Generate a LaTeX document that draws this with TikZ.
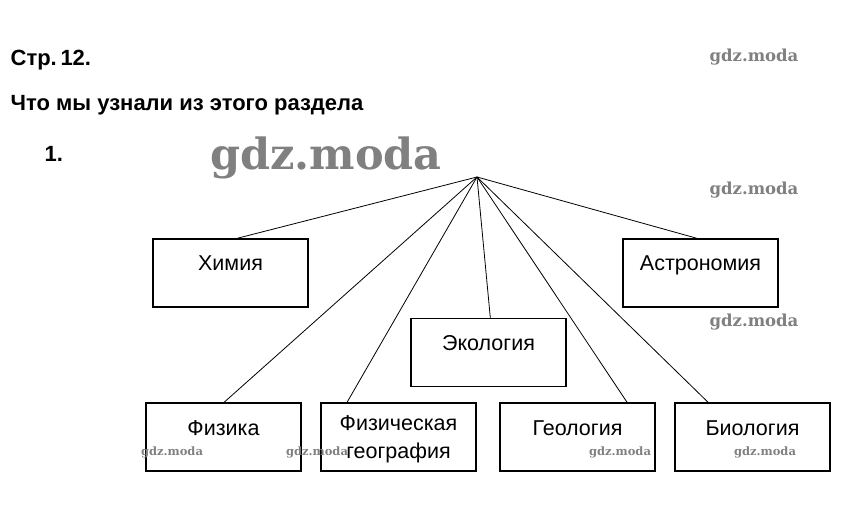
\documentclass[tikz,border=0pt]{standalone}
\usepackage{fontspec}
\setmainfont{Liberation Sans}
\newfontfamily\wmfont{DejaVu Serif}
\usetikzlibrary{positioning}

\begin{document}
\begin{tikzpicture}[x=1pt, y=-1pt, semithick,
    every node/.style={font=\fontsize{21.5}{28}\selectfont},
    subject/.style={draw, line width=1.4pt, minimum width=155pt, minimum height=68pt,
        inner sep=0pt, text height=13pt, text depth=17pt, align=center},
    heading/.style={anchor=base west, font=\bfseries\fontsize{22}{25}\selectfont},
    wmark/.style={text=black!50, font=\wmfont\bfseries\fontsize{16.5}{16.5}\selectfont},
    wmsmall/.style={wmark, font=\wmfont\bfseries\fontsize{11.5}{11.5}\selectfont}
    ]
\useasboundingbox (0,0) rectangle (843,521);
% \draw[help lines, step=50] (0,0) grid (843,521);

% headings
\node[heading] (page)  at (7,66)  {Стр.\,12.};
\node[heading] (title) at (7,111) {Что мы узнали из этого раздела};
\node[heading] (num)   at (41,162) {1.};

% watermarks
\node[wmark, font=\wmfont\bfseries\fontsize{43}{43}\selectfont] (wm0) at (326,158) {gdz.moda};
\node[wmark] (wm1) at (754,57)  {gdz.moda};
\node[wmark] (wm2) at (754,190) {gdz.moda};
\node[wmark] (wm3) at (754,322) {gdz.moda};

% subjects
\coordinate (hub) at (477,177);
\node[subject] (chem)  at (230.5,273) {Химия};
\node[subject] (astro) at (700.5,273) {Астрономия};
\node[subject] (eco)   at (488.5,352.5) {Экология};
\node[subject] (phys)  at (223.5,437) {Физика};
\node[subject, text height=48pt, text depth=5pt] (geogr) at (398.5,437)
    {Физическая\\география};
\node[subject] (geol)  at (577.5,437) {Геология};
\node[subject] (bio)   at (752.5,437) {Биология};

\node[wmsmall] (wm4) at (172,452) {gdz.moda};
\node[wmsmall] (wm5) at (317,452) {gdz.moda};
\node[wmsmall] (wm6) at (620,452) {gdz.moda};
\node[wmsmall] (wm7) at (765,452) {gdz.moda};

\path[line width=0.8pt]
(hub) edge (chem.79)
(hub) edge (astro.96)
(hub) edge (eco.87)
(hub) edge (phys.89)
(hub) edge (geogr.146)
(hub) edge (geol.35.6)
(hub) edge (bio.142.6)
;
\end{tikzpicture}
\end{document}
